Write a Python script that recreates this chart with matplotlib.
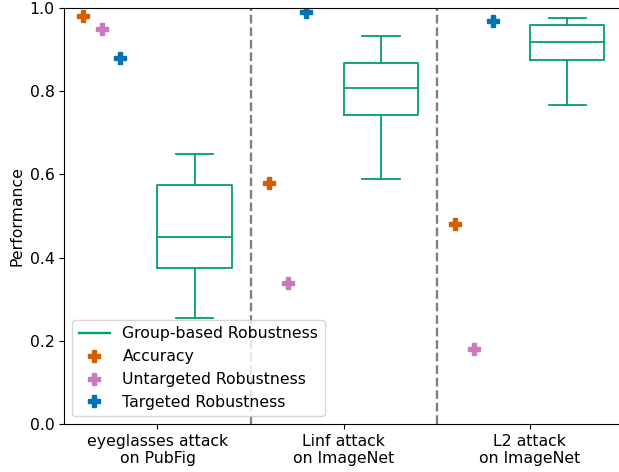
import matplotlib
matplotlib.use("Agg")
import matplotlib.pyplot as plt
from matplotlib.lines import Line2D

plt.rcParams["font.size"] = 11.3

# attack settings shown on the x axis
attacks = ["eyeglasses attack\non PubFig", "Linf attack\non ImageNet", "L2 attack\non ImageNet"]

# point metrics per attack
accuracy = [0.98, 0.58, 0.48]
untargeted = [0.95, 0.34, 0.18]
targeted = [0.88, 0.99, 0.97]

# group-based robustness box stats: low whisker, q1, median, q3, high whisker
group_low = [0.256, 0.590, 0.767]
group_q1 = [0.374, 0.742, 0.875]
group_med = [0.450, 0.808, 0.919]
group_q3 = [0.574, 0.868, 0.958]
group_high = [0.649, 0.933, 0.977]

green = "#029e73"
colors = {"Accuracy": "#d55e00", "Untargeted Robustness": "#cc78bc",
          "Targeted Robustness": "#0173b2"}

fig, ax = plt.subplots(figsize=(6.19, 4.72), dpi=100)

# boxes drawn from precomputed stats
stats = []
for i in range(len(attacks)):
    stats.append({"whislo": group_low[i], "q1": group_q1[i], "med": group_med[i],
                  "q3": group_q3[i], "whishi": group_high[i], "fliers": []})
box_pos = [i + 0.2 for i in range(len(attacks))]
line_style = dict(color=green, linewidth=1.3)
ax.bxp(stats, positions=box_pos, widths=0.4, showfliers=False,
       boxprops=line_style, whiskerprops=line_style, capprops=line_style,
       medianprops=line_style)

# point metrics to the left of each box
offsets = [-0.4, -0.3, -0.2]
series = [accuracy, untargeted, targeted]
for off, (name, col), vals in zip(offsets, colors.items(), series):
    xs = [i + off for i in range(len(attacks))]
    ax.plot(xs, vals, linestyle="none", marker="P", markersize=8, color=col)

# separators between attacks
for sep in [0.5, 1.5]:
    ax.axvline(sep, color="gray", linestyle="--", linewidth=1.7)

ax.set_xlim(-0.5, 2.5)
ax.set_ylim(0, 1.0)
ax.set_xticks(range(len(attacks)))
ax.set_xticklabels(attacks)
ax.set_ylabel("Performance")

handles = [Line2D([], [], color=green, linewidth=1.7, label="Group-based Robustness")]
for name, col in colors.items():
    handles.append(Line2D([], [], linestyle="none", marker="P", markersize=8,
                          color=col, label=name))
ax.legend(handles=handles, loc="lower left")

fig.subplots_adjust(left=0.104, right=1.0065, top=0.983, bottom=0.1017)
fig.savefig("out.png", dpi=100)
